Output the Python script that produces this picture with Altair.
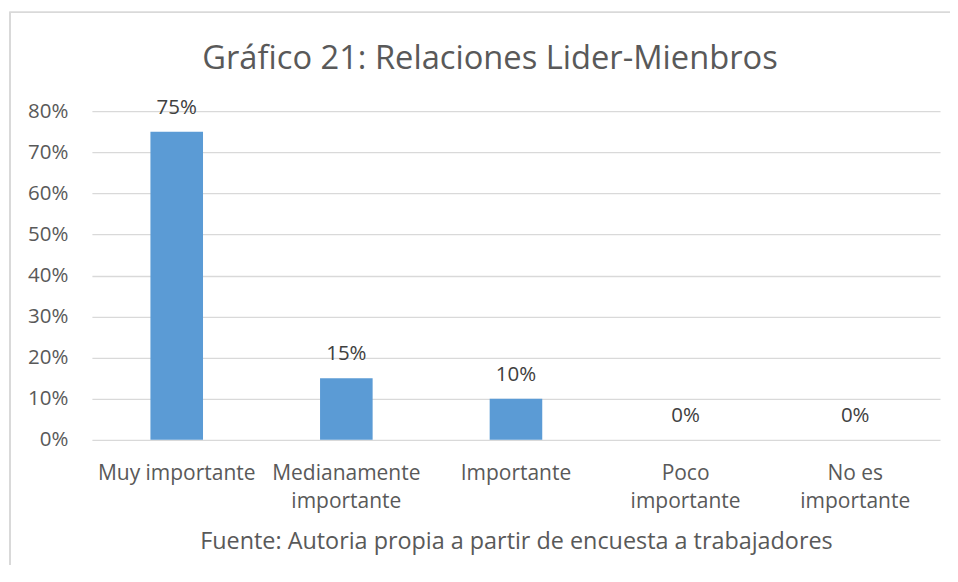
import altair as alt
import pandas as pd

categories = ["Muy importante", "Medianamente|importante", "Importante", "Poco|importante", "No es|importante"]
values = [0.75, 0.15, 0.10, 0.0, 0.0]
y_ticks = [0, 0.1, 0.2, 0.3, 0.4, 0.5, 0.6, 0.7, 0.8]

df = pd.DataFrame({"cat": categories, "val": values})

FONT = "Open Sans"
TXT = "#595959"

x = alt.X("cat:N", sort=categories,
          scale=alt.Scale(paddingInner=0.69, paddingOuter=0.345),
          axis=alt.Axis(title="Fuente: Autoria propia a partir de encuesta a trabajadores",
                        labelExpr="split(datum.label, '|')", labelAngle=0,
                        labelFont=FONT, labelFontSize=21, labelColor=TXT,
                        labelPadding=23, labelLineHeight=28, labelBaseline="top",
                        titleFont=FONT, titleFontSize=23.4, titleColor=TXT,
                        titleFontWeight="normal", titlePadding=19,
                        domain=False, ticks=False, grid=False))

y = alt.Y("val:Q", scale=alt.Scale(domain=[0, 0.8], nice=False),
          axis=alt.Axis(title=None, format=".0%", values=y_ticks,
                        labelFont=FONT, labelFontSize=20.5, labelColor=TXT,
                        labelPadding=24, domain=False, ticks=False,
                        gridColor="#D9D9D9", gridWidth=1.3))

border = alt.Chart(df).mark_rect(fill=None, stroke="#D9D9D9", strokeWidth=1.3).encode(
    x=alt.value(-82), x2=alt.value(1500), y=alt.value(-99), y2=alt.value(900))

bars = alt.Chart(df).mark_bar(color="#5B9BD5").encode(x=x, y=y)

labels = alt.Chart(df).mark_text(baseline="bottom", dy=-14, font=FONT, fontSize=20.5,
                                 color="#404040").encode(
    x=alt.X("cat:N", sort=categories), y="val:Q", text=alt.Text("val:Q", format=".0%"))

chart = alt.layer(border, bars, labels).properties(
    width=849, height=329,
    title=alt.TitleParams("Gráfico 21: Relaciones Lider-Mienbros", font=FONT, fontSize=32.7,
                          fontWeight="normal", color=TXT, anchor="middle", dx=-26,
                          baseline="bottom", offset=-97),
    autosize=alt.AutoSizeParams(type="none"),
    padding={"left": 84, "top": 103, "right": 10, "bottom": 125},
).configure_view(stroke=None)

chart.save("out.html", embed_options={"renderer": "svg", "actions": False})
